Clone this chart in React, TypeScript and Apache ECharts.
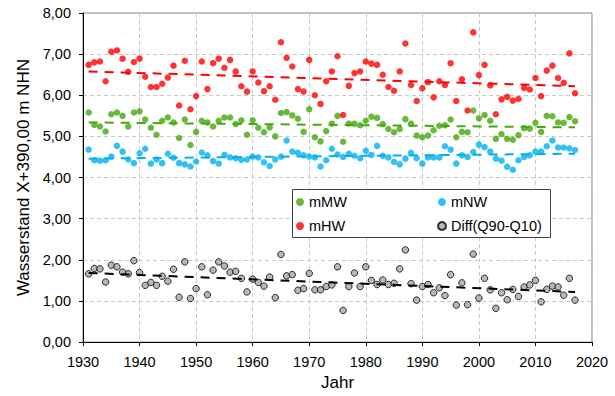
import React, { useEffect, useRef } from "react";
import * as echarts from "echarts";

const startYear = 1931;
const mHW = [6.74,6.80,6.82,6.34,7.06,7.09,6.89,6.57,6.81,6.89,6.45,6.20,6.20,6.28,6.43,6.72,5.75,6.84,5.66,5.98,6.82,6.15,6.78,6.89,6.67,6.86,6.58,6.22,6.09,6.58,6.31,6.10,6.22,5.89,7.29,6.91,6.70,6.15,6.09,6.86,6.00,5.79,6.34,6.58,6.95,5.52,6.23,6.54,6.58,6.82,6.77,6.74,6.50,6.20,6.11,6.58,7.26,6.25,5.86,6.17,6.32,5.95,6.34,6.25,6.78,5.86,6.39,5.63,7.53,6.49,6.74,6.24,5.54,5.90,5.96,5.87,5.91,6.18,6.14,6.42,5.98,6.60,6.72,6.42,6.30,7.02,6.05];
const mMW = [5.58,5.28,5.24,5.12,5.54,5.58,5.50,5.24,5.58,5.61,5.41,5.21,5.04,5.38,5.46,5.34,4.96,5.41,4.79,5.11,5.38,5.34,5.24,5.38,5.46,5.46,5.30,5.39,5.04,5.39,5.21,5.10,5.22,5.00,5.57,5.59,5.51,5.43,5.11,5.66,4.98,4.88,5.13,5.31,5.50,4.87,5.31,5.31,5.27,5.38,5.48,5.45,5.30,5.18,5.10,5.18,5.42,5.31,5.02,4.98,5.02,5.15,5.26,5.27,5.41,4.98,5.11,5.10,5.63,5.44,5.52,5.38,4.94,5.06,4.94,4.92,5.03,5.20,5.19,5.33,5.11,5.50,5.49,5.34,5.33,5.47,5.37];
const mNW = [4.68,4.42,4.41,4.42,4.51,4.77,4.63,4.44,4.35,4.59,4.70,4.34,4.44,4.35,4.58,4.48,4.35,4.32,4.27,4.39,4.61,4.54,4.40,4.34,4.55,4.49,4.47,4.43,4.44,4.51,4.49,4.37,4.28,4.44,4.51,4.90,4.63,4.60,4.54,4.51,4.49,4.27,4.42,4.70,4.56,4.50,4.58,4.53,4.47,4.65,4.55,4.77,4.53,4.49,4.38,4.32,4.46,4.60,4.47,4.34,4.49,4.49,4.49,4.76,4.68,4.34,4.54,4.50,4.62,4.80,4.74,4.63,4.46,4.41,4.26,4.19,4.42,4.50,4.54,4.63,4.63,4.76,4.90,4.73,4.73,4.71,4.67];
const diff = [1.66,1.79,1.78,1.46,1.87,1.83,1.70,1.66,1.98,1.69,1.38,1.45,1.38,1.60,1.48,1.77,1.09,1.95,1.06,1.30,1.83,1.15,1.75,1.95,1.85,1.70,1.72,1.55,1.22,1.53,1.45,1.36,1.58,1.08,2.13,1.61,1.64,1.26,1.30,1.67,1.27,1.27,1.35,1.39,1.83,0.77,1.35,1.68,1.35,1.83,1.50,1.40,1.51,1.40,1.43,1.78,2.24,1.42,1.02,1.35,1.40,1.20,1.32,1.13,1.64,0.90,1.44,0.91,2.14,1.07,1.55,1.27,0.82,1.20,1.03,1.28,1.11,1.34,1.39,1.50,0.98,1.28,1.36,1.34,1.14,1.55,1.02];

const trendYears = [1931, 2017];
const trendMHW = [6.58, 6.22];
const trendMMW = [5.34, 5.22];
const trendMNW = [4.46, 4.58];
const trendDiff = [1.68, 1.22];

const seriesNames = ["mMW", "mHW", "mNW", "Diff(Q90-Q10)"];

const FONT = "'Liberation Sans', Arial, sans-serif";

function pts(vals: number[]) {
  return vals.map((v, i) => [startYear + i, v]);
}
function trend(vals: number[]) {
  return trendYears.map((y, i) => [y, vals[i]]);
}

export default function App() {
  const ref = useRef<HTMLDivElement>(null);
  useEffect(() => {
    if (!ref.current) return;
    const chart = echarts.init(ref.current, undefined, { renderer: "svg" });
    const scatter = (name: string, data: number[], color: string, border?: string) => ({
      name,
      type: "scatter",
      data: pts(data),
      symbol: "circle",
      symbolSize: 6.5,
      itemStyle: border
        ? { color, borderColor: border, borderWidth: 1 }
        : { color },
      z: 2,
    });
    const tline = (data: number[], color: string) => ({
      type: "line",
      data: trend(data),
      symbol: "none",
      lineStyle: { color, width: 2, type: [9, 7] },
      z: 3,
      silent: true,
    });
    const legendText = { fontSize: 14.5, color: "#000", fontFamily: FONT, lineHeight: 16 };
    chart.setOption({
      animation: false,
      backgroundColor: "#fff",
      textStyle: { fontFamily: FONT },
      grid: { left: 83, top: 13, right: 23, bottom: 49, show: true, borderColor: "#808080", borderWidth: 1 },
      xAxis: {
        type: "value",
        min: 1930,
        max: 2020,
        interval: 10,
        name: "Jahr",
        nameLocation: "middle",
        nameGap: 27,
        nameTextStyle: { fontSize: 17, color: "#000", fontFamily: FONT },
        axisLine: { lineStyle: { color: "#000", width: 1 } },
        axisTick: { show: true, length: 4, lineStyle: { color: "#000" } },
        axisLabel: {
          fontSize: 14.5,
          color: "#000",
          margin: 12,
          fontFamily: FONT,
          formatter: (v: number) => String(v),
        },
        splitLine: { show: true, lineStyle: { color: "#c8c8c8", type: [4, 3] } },
      },
      yAxis: {
        type: "value",
        min: 0,
        max: 8,
        interval: 1,
        name: "Wasserstand X+390,00 m NHN",
        nameLocation: "middle",
        nameGap: 48,
        nameTextStyle: { fontSize: 17, color: "#000", fontFamily: FONT },
        axisLine: { show: true, lineStyle: { color: "#000", width: 1 } },
        axisTick: { show: true, length: 4, lineStyle: { color: "#000" } },
        axisLabel: {
          fontSize: 14.5,
          color: "#000",
          margin: 12,
          fontFamily: FONT,
          formatter: (v: number) => v.toFixed(2).replace(".", ","),
        },
        splitLine: { show: true, lineStyle: { color: "#c8c8c8", type: [4, 3] } },
      },
      legend: [
        {
          data: [seriesNames[0], seriesNames[1]],
          orient: "vertical",
          left: 296,
          top: 194,
          padding: 0,
          itemWidth: 8,
          itemHeight: 8,
          itemGap: 8,
          textStyle: legendText,
        },
        {
          data: [seriesNames[2], seriesNames[3]],
          orient: "vertical",
          left: 437,
          top: 194,
          padding: 0,
          itemWidth: 8,
          itemHeight: 8,
          itemGap: 8,
          textStyle: legendText,
        },
      ],
      graphic: [
        {
          type: "rect",
          shape: { x: 292.5, y: 189.5, width: 258, height: 48 },
          style: { fill: "#fff", stroke: "#404040", lineWidth: 1 },
          z: 1,
        },
      ],
      series: [
        scatter(seriesNames[0], mMW, "#45A80E"),
        scatter(seriesNames[1], mHW, "#FF0000"),
        scatter(seriesNames[2], mNW, "#00B0F0"),
        scatter(seriesNames[3], diff, "#A6A6A6", "#000"),
        tline(trendMMW, "#45A80E"),
        tline(trendMHW, "#FF0000"),
        tline(trendMNW, "#00B0F0"),
        tline(trendDiff, "#000"),
      ],
    });
    return () => chart.dispose();
  }, []);
  return (
    <div
      ref={ref}
      style={{ position: "absolute", left: 0, top: 0, width: 615, height: 396 }}
    />
  );
}
